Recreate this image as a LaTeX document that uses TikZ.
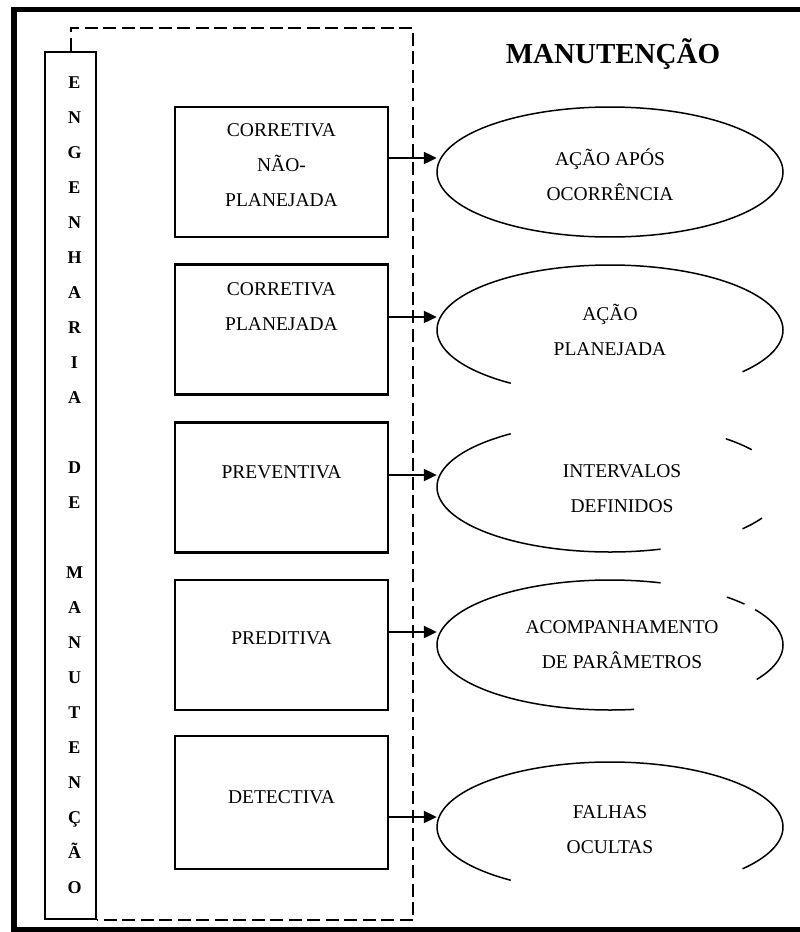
\documentclass[tikz,border=0pt]{standalone}
\usepackage{fontspec}
\setmainfont{Liberation Serif}
\usetikzlibrary{arrows.meta,shapes.geometric}

% partial outline of an ellipse node: name, start angle, end angle
\newcommand\ellarc[3]{%
  \draw[ellline, shift={(#1.center)}]
    plot[domain=#2:#3, samples=90, smooth] ({173*cos(\x)}, {-65*sin(\x)});}

\tikzset{
  frameline/.style={line width=5.5pt},
  stackbox/.style={draw, line width=2.2pt, minimum width=51pt, minimum height=867pt, inner sep=0pt},
  stacktext/.style={align=center, font=\fontsize{18}{35}\selectfont\bfseries, inner sep=0pt},
  typebox/.style={draw, line width=2.2pt, minimum width=213pt, minimum height=130pt, inner sep=0pt},
  typetext/.style={align=center, font=\fontsize{19.5}{35}\selectfont, inner sep=0pt},
  ellnode/.style={ellipse, minimum width=346pt, minimum height=130pt, inner sep=0pt},
  ellline/.style={line width=1.5pt},
  flow/.style={line width=2.2pt, -{Triangle[length=13pt,width=12pt]}},
  dashline/.style={line width=2pt, dash pattern=on 13pt off 5.5pt},
  titletext/.style={font=\fontsize{29}{34}\selectfont\bfseries, inner sep=0pt},
}

\begin{document}
\begin{tikzpicture}[x=1pt, y=-1pt]
\useasboundingbox (0,0) rectangle (800,932);

% outer frame (open to the right)
\draw[frameline] (800,9.7) -- (14,9.7) -- (14,930) -- (800,930);

% title
\node[titletext] (title) at (613,54) {MANUTENÇÃO};

% vertical column
\node[stackbox] (eng) at (70.5,485.5) {};
\node[stacktext] (engtext) at (74.5,485) {E\\N\\G\\E\\N\\H\\A\\R\\I\\A\\\mbox{}\\D\\E\\\mbox{}\\M\\A\\N\\U\\T\\E\\N\\Ç\\Ã\\O};

% dashed enclosure
\coordinate (dtr) at (413,28);
\draw[dashline] (eng.north) |- (dtr) |- (eng.south east);

% maintenance types
\node[typebox] (b1) at (281.5,172) {};
\node[typebox] (b2) at (281.5,329.5) {};
\node[typebox] (b3) at (281.5,487.5) {};
\node[typebox] (b4) at (281.5,645) {};
\node[typebox, minimum height=133pt] (b5) at (281.5,802.5) {};

\node[typetext] (t1) at (281.5,165) {CORRETIVA\\NÃO-\\PLANEJADA};
\node[typetext] (t2) at (281.5,306.5) {CORRETIVA\\PLANEJADA};
\node[typetext] (t3) at (281.5,472) {PREVENTIVA};
\node[typetext] (t4) at (281.5,638) {PREDITIVA};
\node[typetext] (t5) at (281.5,797) {DETECTIVA};

% descriptions
\node[ellnode] (e1) at (610,172) {};
\node[ellnode] (e2) at (610,330) {};
\node[ellnode] (e3) at (610,487) {};
\node[ellnode] (e4) at (610,645) {};
\node[ellnode] (e5) at (610,827) {};

\ellarc{e1}{0}{360}
\ellarc{e2}{-40}{235}
\ellarc{e3}{125}{287}
\ellarc{e3}{35}{48}
\ellarc{e3}{-40}{-28.5}
\ellarc{e4}{73}{278}
\ellarc{e4}{39}{47.5}
\ellarc{e4}{-32}{33}
\ellarc{e5}{-40}{235}

\node[typetext] (d1) at (610,174.5) {AÇÃO APÓS\\OCORRÊNCIA};
\node[typetext] (d2) at (610,330) {AÇÃO\\PLANEJADA};
\node[typetext] (d3) at (622,488.5) {INTERVALOS\\DEFINIDOS};
\node[typetext] (d4) at (622,645) {ACOMPANHAMENTO\\DE PARÂMETROS};
\node[typetext] (d5) at (610,830) {FALHAS\\OCULTAS};

% connectors
\coordinate (a1) at ([yshift=14pt]e1.west);
\coordinate (a2) at ([yshift=13pt]e2.west);
\coordinate (a3) at ([yshift=12pt]e3.west);
\coordinate (a4) at ([yshift=13pt]e4.west);
\coordinate (a5) at ([yshift=10pt]e5.west);
\draw[flow] (b1.east |- a1) -- (a1);
\draw[flow] (b2.east |- a2) -- (a2);
\draw[flow] (b3.east |- a3) -- (a3);
\draw[flow] (b4.east |- a4) -- (a4);
\draw[flow] (b5.east |- a5) -- (a5);
\end{tikzpicture}
\end{document}
